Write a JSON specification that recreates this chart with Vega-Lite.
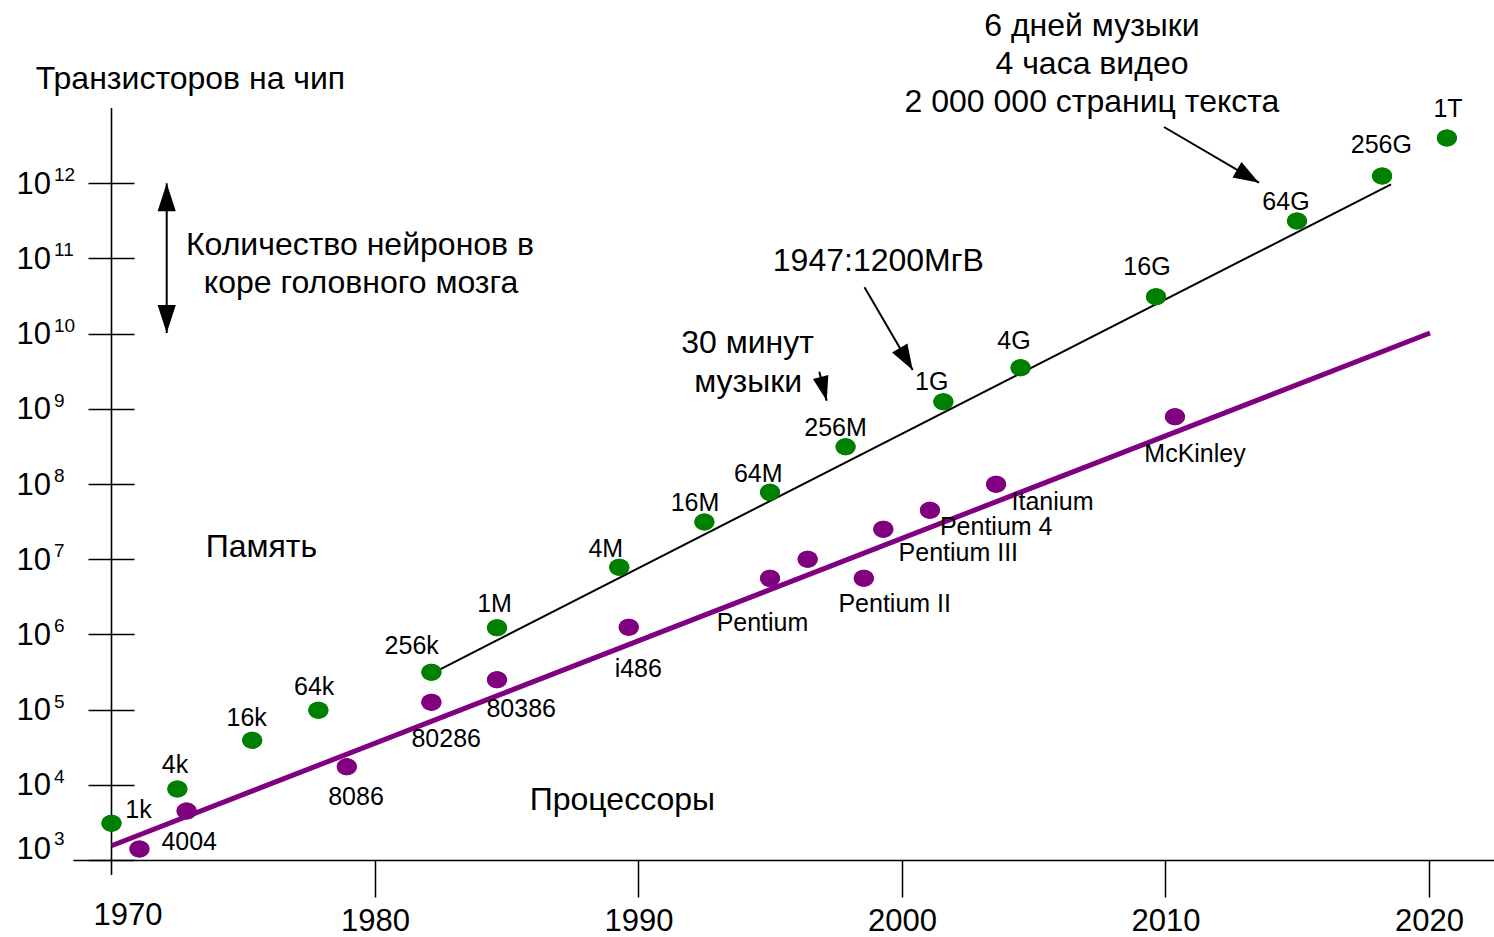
{
  "$schema": "https://vega.github.io/schema/vega-lite/v6.json",
  "width": 1421,
  "height": 860,
  "autosize": {"type": "none"},
  "padding": {"left": 73, "top": 0, "right": 0, "bottom": 77},
  "background": "white",
  "config": {
    "view": {"stroke": null},
    "font": "Liberation Sans",
    "axis": {"labelFont": "Liberation Sans", "titleFont": "Liberation Sans", "labelColor": "black", "titleColor": "black", "grid": false}
  },
  "datasets": {
    "chips": [
      {"series": "Память", "name": "1k", "year": 1970.0, "count": 3080},
      {"series": "Память", "name": "4k", "year": 1972.5, "count": 8790},
      {"series": "Память", "name": "16k", "year": 1975.34, "count": 39100},
      {"series": "Память", "name": "64k", "year": 1977.85, "count": 97900},
      {"series": "Память", "name": "256k", "year": 1982.14, "count": 313000},
      {"series": "Память", "name": "1M", "year": 1984.63, "count": 1230000},
      {"series": "Память", "name": "4M", "year": 1989.27, "count": 7820000},
      {"series": "Память", "name": "16M", "year": 1992.5, "count": 31300000},
      {"series": "Память", "name": "64M", "year": 1994.99, "count": 77600000},
      {"series": "Память", "name": "256M", "year": 1997.86, "count": 314000000},
      {"series": "Память", "name": "1G", "year": 2001.57, "count": 1245000000},
      {"series": "Память", "name": "4G", "year": 2004.5, "count": 3527000000},
      {"series": "Память", "name": "16G", "year": 2009.64, "count": 31020000000},
      {"series": "Память", "name": "64G", "year": 2014.99, "count": 314800000000},
      {"series": "Память", "name": "256G", "year": 2018.22, "count": 1250000000000},
      {"series": "Память", "name": "1T", "year": 2020.68, "count": 4004000000000},
      {"series": "Процессоры", "name": "4004", "year": 1971.06, "count": 1400},
      {"series": "Процессоры", "name": "8008", "year": 1972.85, "count": 4490},
      {"series": "Процессоры", "name": "8086", "year": 1978.93, "count": 17400},
      {"series": "Процессоры", "name": "80286", "year": 1982.14, "count": 125000},
      {"series": "Процессоры", "name": "80386", "year": 1984.63, "count": 250000},
      {"series": "Процессоры", "name": "i486", "year": 1989.63, "count": 1245000},
      {"series": "Процессоры", "name": "Pentium", "year": 1994.99, "count": 5570000},
      {"series": "Процессоры", "name": "Pentium Pro", "year": 1996.42, "count": 9980000},
      {"series": "Процессоры", "name": "Pentium II", "year": 1998.55, "count": 5570000},
      {"series": "Процессоры", "name": "Pentium III", "year": 1999.29, "count": 25000000},
      {"series": "Процессоры", "name": "Pentium 4", "year": 2001.06, "count": 44800000},
      {"series": "Процессоры", "name": "Itanium", "year": 2003.57, "count": 99300000},
      {"series": "Процессоры", "name": "McKinley", "year": 2010.36, "count": 787000000}
    ],
    "chipLabels": [
      {"name": "1k", "year": 1971.025, "count": 3586},
      {"name": "4k", "year": 1972.41, "count": 14230},
      {"name": "16k", "year": 1975.131, "count": 61100},
      {"name": "64k", "year": 1977.693, "count": 156500},
      {"name": "256k", "year": 1981.393, "count": 549000},
      {"name": "1M", "year": 1984.535, "count": 1970000},
      {"name": "4M", "year": 1988.759, "count": 10810000},
      {"name": "16M", "year": 1992.144, "count": 43800000},
      {"name": "64M", "year": 1994.546, "count": 107500000},
      {"name": "256M", "year": 1997.476, "count": 440000000},
      {"name": "1G", "year": 2001.127, "count": 1782000000},
      {"name": "4G", "year": 2004.25, "count": 6200000000},
      {"name": "16G", "year": 2009.298, "count": 60290000000},
      {"name": "64G", "year": 2014.573, "count": 441400000000},
      {"name": "256G", "year": 2018.19, "count": 2505000000000},
      {"name": "1T", "year": 2020.721, "count": 7548000000000},
      {"name": "4004", "year": 1972.949, "count": 1358},
      {"name": "8086", "year": 1979.279, "count": 5389},
      {"name": "80286", "year": 1982.702, "count": 32130},
      {"name": "80386", "year": 1985.548, "count": 79050},
      {"name": "i486", "year": 1989.992, "count": 274100},
      {"name": "Pentium", "year": 1994.706, "count": 1111000},
      {"name": "Pentium II", "year": 1999.723, "count": 2006000},
      {"name": "Pentium III", "year": 2002.137, "count": 9620000},
      {"name": "Pentium 4", "year": 2003.575, "count": 20690000},
      {"name": "Itanium", "year": 2005.712, "count": 45180000},
      {"name": "McKinley", "year": 2011.12, "count": 198300000}
    ],
    "trends": [
      {"series": "Память", "year": 1982.47, "count": 343800},
      {"series": "Память", "year": 2018.56, "count": 969600000000},
      {"series": "Процессоры", "year": 1970.0, "count": 1549},
      {"series": "Процессоры", "year": 2020.04, "count": 10210000000}
    ],
    "notes": [
      {"text": "Количество нейронов в", "year": 1979.43, "count": 111200000000},
      {"text": "коре головного мозга", "year": 1979.47, "count": 34400000000},
      {"text": "Память", "year": 1975.69, "count": 10810000},
      {"text": "Процессоры", "year": 1989.39, "count": 4620},
      {"text": "30 минут", "year": 1994.14, "count": 5480000000},
      {"text": "музыки", "year": 1994.16, "count": 1692000000},
      {"text": "1947:1200МгВ", "year": 1999.1, "count": 68800000000},
      {"text": "6 дней музыки", "year": 2007.21, "count": 91000000000000},
      {"text": "4 часа видео", "year": 2007.21, "count": 28400000000000},
      {"text": "2 000 000 страниц текста", "year": 2007.21, "count": 8960000000000}
    ],
    "exponents": [
      {"exp": "3", "value": 1000},
      {"exp": "4", "value": 10000},
      {"exp": "5", "value": 100000},
      {"exp": "6", "value": 1000000},
      {"exp": "7", "value": 10000000},
      {"exp": "8", "value": 100000000},
      {"exp": "9", "value": 1000000000},
      {"exp": "10", "value": 10000000000},
      {"exp": "11", "value": 100000000000},
      {"exp": "12", "value": 1000000000000}
    ],
    "arrows": [
      {"arrow": "neurons", "year": 1972.095, "count": 10200000000, "year2": 1972.095, "count2": 1000000000000},
      {"arrow": "music", "year": 1996.861, "count": 3120000000, "year2": 1997.142, "count2": 1284000000},
      {"arrow": "mem1947", "year": 1998.577, "count": 41370000000, "year2": 2000.406, "count2": 3288000000},
      {"arrow": "video", "year": 2009.943, "count": 5606000000000, "year2": 2013.548, "count2": 1019000000000}
    ],
    "axisLine": [
      {"year": 1970, "lo": 632, "hi": 10030000000000}
    ]
  },
  "layer": [
    {
      "data": {"name": "chips"},
      "mark": {"type": "point", "filled": true, "opacity": 1, "size": 400, "strokeWidth": 0, "shape": "M-1,0A1,0.85,0,1,1,1,0A1,0.85,0,1,1,-1,0Z"},
      "encoding": {
        "x": {
          "field": "year", "type": "quantitative",
          "scale": {"domain": [1968.539, 2022.467], "nice": false, "zero": false},
          "axis": {
            "orient": "bottom", "title": null,
            "values": [1970, 1980, 1990, 2000, 2010, 2020], "format": "d",
            "domainColor": "black", "domainWidth": 1.5,
            "tickColor": "black", "tickWidth": 1.5, "tickSize": 37,
            "tickOpacity": {"condition": {"test": "datum.value == 1970", "value": 0}, "value": 1},
            "labelFontSize": 31, "labelBaseline": "top",
            "labelPadding": {"condition": {"test": "datum.value == 1970", "value": 3}, "value": 9},
            "labelOffset": {"condition": {"test": "datum.value == 1970", "value": 16}, "value": 0},
            "labelFlush": false, "labelOverlap": false, "labelBound": false
          }
        },
        "y": {
          "field": "count", "type": "quantitative",
          "scale": {"type": "log", "domain": [1000, 274000000000000], "nice": false},
          "axis": {
            "orient": "left", "offset": -61,
            "values": [1000, 10000, 100000, 1000000, 10000000, 100000000, 1000000000, 10000000000, 100000000000, 1000000000000],
            "domain": false,
            "tickColor": "black", "tickWidth": 1.5, "tickSize": 46,
            "labelExpr": "'10'",
            "labelAlign": "left", "labelBaseline": "middle", "labelPadding": 72,
            "labelOffset": {"condition": {"test": "datum.value == 1000", "value": -11}, "value": 1},
            "labelFontSize": 31, "labelFlush": false, "labelOverlap": false, "labelBound": false,
            "title": "Транзисторов на чип", "titleAngle": 0, "titleX": 56, "titleY": 88,
            "titleAlign": "center", "titleBaseline": "alphabetic", "titleFontSize": 32, "titleFontWeight": "normal"
          }
        },
        "color": {"field": "series", "type": "nominal", "scale": {"domain": ["Память", "Процессоры"], "range": ["#008000", "#800080"]}, "legend": null}
      }
    },
    {
      "data": {"name": "exponents"},
      "transform": [{"filter": "datum.value > 1000"}],
      "mark": {"type": "text", "fontSize": 19, "align": "left", "baseline": "alphabetic", "dy": -2, "color": "black", "font": "Liberation Sans"},
      "encoding": {
        "x": {"datum": 1967.818, "type": "quantitative"},
        "y": {"field": "value", "type": "quantitative"},
        "text": {"field": "exp"}
      }
    },
    {
      "data": {"name": "exponents"},
      "transform": [{"filter": "datum.value == 1000"}],
      "mark": {"type": "text", "fontSize": 19, "align": "left", "baseline": "alphabetic", "dy": -15, "color": "black", "font": "Liberation Sans"},
      "encoding": {
        "x": {"datum": 1967.818, "type": "quantitative"},
        "y": {"field": "value", "type": "quantitative"},
        "text": {"field": "exp"}
      }
    },
    {
      "data": {"name": "axisLine"},
      "mark": {"type": "rule", "color": "black", "strokeWidth": 1.6},
      "encoding": {
        "x": {"field": "year", "type": "quantitative"},
        "y": {"field": "lo", "type": "quantitative"},
        "y2": {"field": "hi"}
      }
    },
    {
      "data": {"name": "trends"},
      "transform": [{"filter": "datum.series === 'Память'"}],
      "mark": {"type": "line", "color": "black", "strokeWidth": 2},
      "encoding": {
        "x": {"field": "year", "type": "quantitative"},
        "y": {"field": "count", "type": "quantitative"}
      }
    },
    {
      "data": {"name": "trends"},
      "transform": [{"filter": "datum.series === 'Процессоры'"}],
      "mark": {"type": "line", "color": "#800080", "strokeWidth": 5},
      "encoding": {
        "x": {"field": "year", "type": "quantitative"},
        "y": {"field": "count", "type": "quantitative"}
      }
    },
    {
      "data": {"name": "chips"},
      "mark": {"type": "point", "filled": true, "opacity": 1, "size": 400, "strokeWidth": 0, "shape": "M-1,0A1,0.85,0,1,1,1,0A1,0.85,0,1,1,-1,0Z"},
      "encoding": {
        "x": {"field": "year", "type": "quantitative"},
        "y": {"field": "count", "type": "quantitative"},
        "color": {"field": "series", "type": "nominal", "legend": null}
      }
    },
    {
      "data": {"name": "chipLabels"},
      "mark": {"type": "text", "fontSize": 25, "align": "center", "baseline": "alphabetic", "color": "black", "font": "Liberation Sans"},
      "encoding": {
        "x": {"field": "year", "type": "quantitative"},
        "y": {"field": "count", "type": "quantitative"},
        "text": {"field": "name"}
      }
    },
    {
      "data": {"name": "notes"},
      "mark": {"type": "text", "fontSize": 32, "align": "center", "baseline": "alphabetic", "color": "black", "font": "Liberation Sans"},
      "encoding": {
        "x": {"field": "year", "type": "quantitative"},
        "y": {"field": "count", "type": "quantitative"},
        "text": {"field": "text"}
      }
    },
    {
      "data": {"name": "arrows"},
      "mark": {"type": "rule", "color": "black", "strokeWidth": 2},
      "encoding": {
        "x": {"field": "year", "type": "quantitative"},
        "y": {"field": "count", "type": "quantitative"},
        "x2": {"field": "year2"},
        "y2": {"field": "count2"}
      }
    },
    {
      "data": {"name": "arrows"},
      "transform": [{"filter": "datum.arrow === 'neurons'"}],
      "mark": {"type": "point", "filled": true, "opacity": 1, "color": "black", "strokeWidth": 0, "size": 784, "shape": "M0,0L0.65,2L-0.65,2Z", "angle": 0},
      "encoding": {
        "x": {"field": "year2", "type": "quantitative"},
        "y": {"field": "count2", "type": "quantitative"}
      }
    },
    {
      "data": {"name": "arrows"},
      "transform": [{"filter": "datum.arrow === 'neurons'"}],
      "mark": {"type": "point", "filled": true, "opacity": 1, "color": "black", "strokeWidth": 0, "size": 784, "shape": "M0,0L0.65,2L-0.65,2Z", "angle": 180},
      "encoding": {
        "x": {"field": "year", "type": "quantitative"},
        "y": {"field": "count", "type": "quantitative"}
      }
    },
    {
      "data": {"name": "arrows"},
      "transform": [{"filter": "datum.arrow === 'music'"}],
      "mark": {"type": "point", "filled": true, "opacity": 1, "color": "black", "strokeWidth": 0, "size": 600, "shape": "M0,0L0.65,2L-0.65,2Z", "angle": 165.7},
      "encoding": {
        "x": {"field": "year2", "type": "quantitative"},
        "y": {"field": "count2", "type": "quantitative"}
      }
    },
    {
      "data": {"name": "arrows"},
      "transform": [{"filter": "datum.arrow === 'mem1947'"}],
      "mark": {"type": "point", "filled": true, "opacity": 1, "color": "black", "strokeWidth": 0, "size": 650, "shape": "M0,0L0.7,2L-0.7,2Z", "angle": 149.5},
      "encoding": {
        "x": {"field": "year2", "type": "quantitative"},
        "y": {"field": "count2", "type": "quantitative"}
      }
    },
    {
      "data": {"name": "arrows"},
      "transform": [{"filter": "datum.arrow === 'video'"}],
      "mark": {"type": "point", "filled": true, "opacity": 1, "color": "black", "strokeWidth": 0, "size": 650, "shape": "M0,0L0.7,2L-0.7,2Z", "angle": 120.4},
      "encoding": {
        "x": {"field": "year2", "type": "quantitative"},
        "y": {"field": "count2", "type": "quantitative"}
      }
    }
  ]
}
